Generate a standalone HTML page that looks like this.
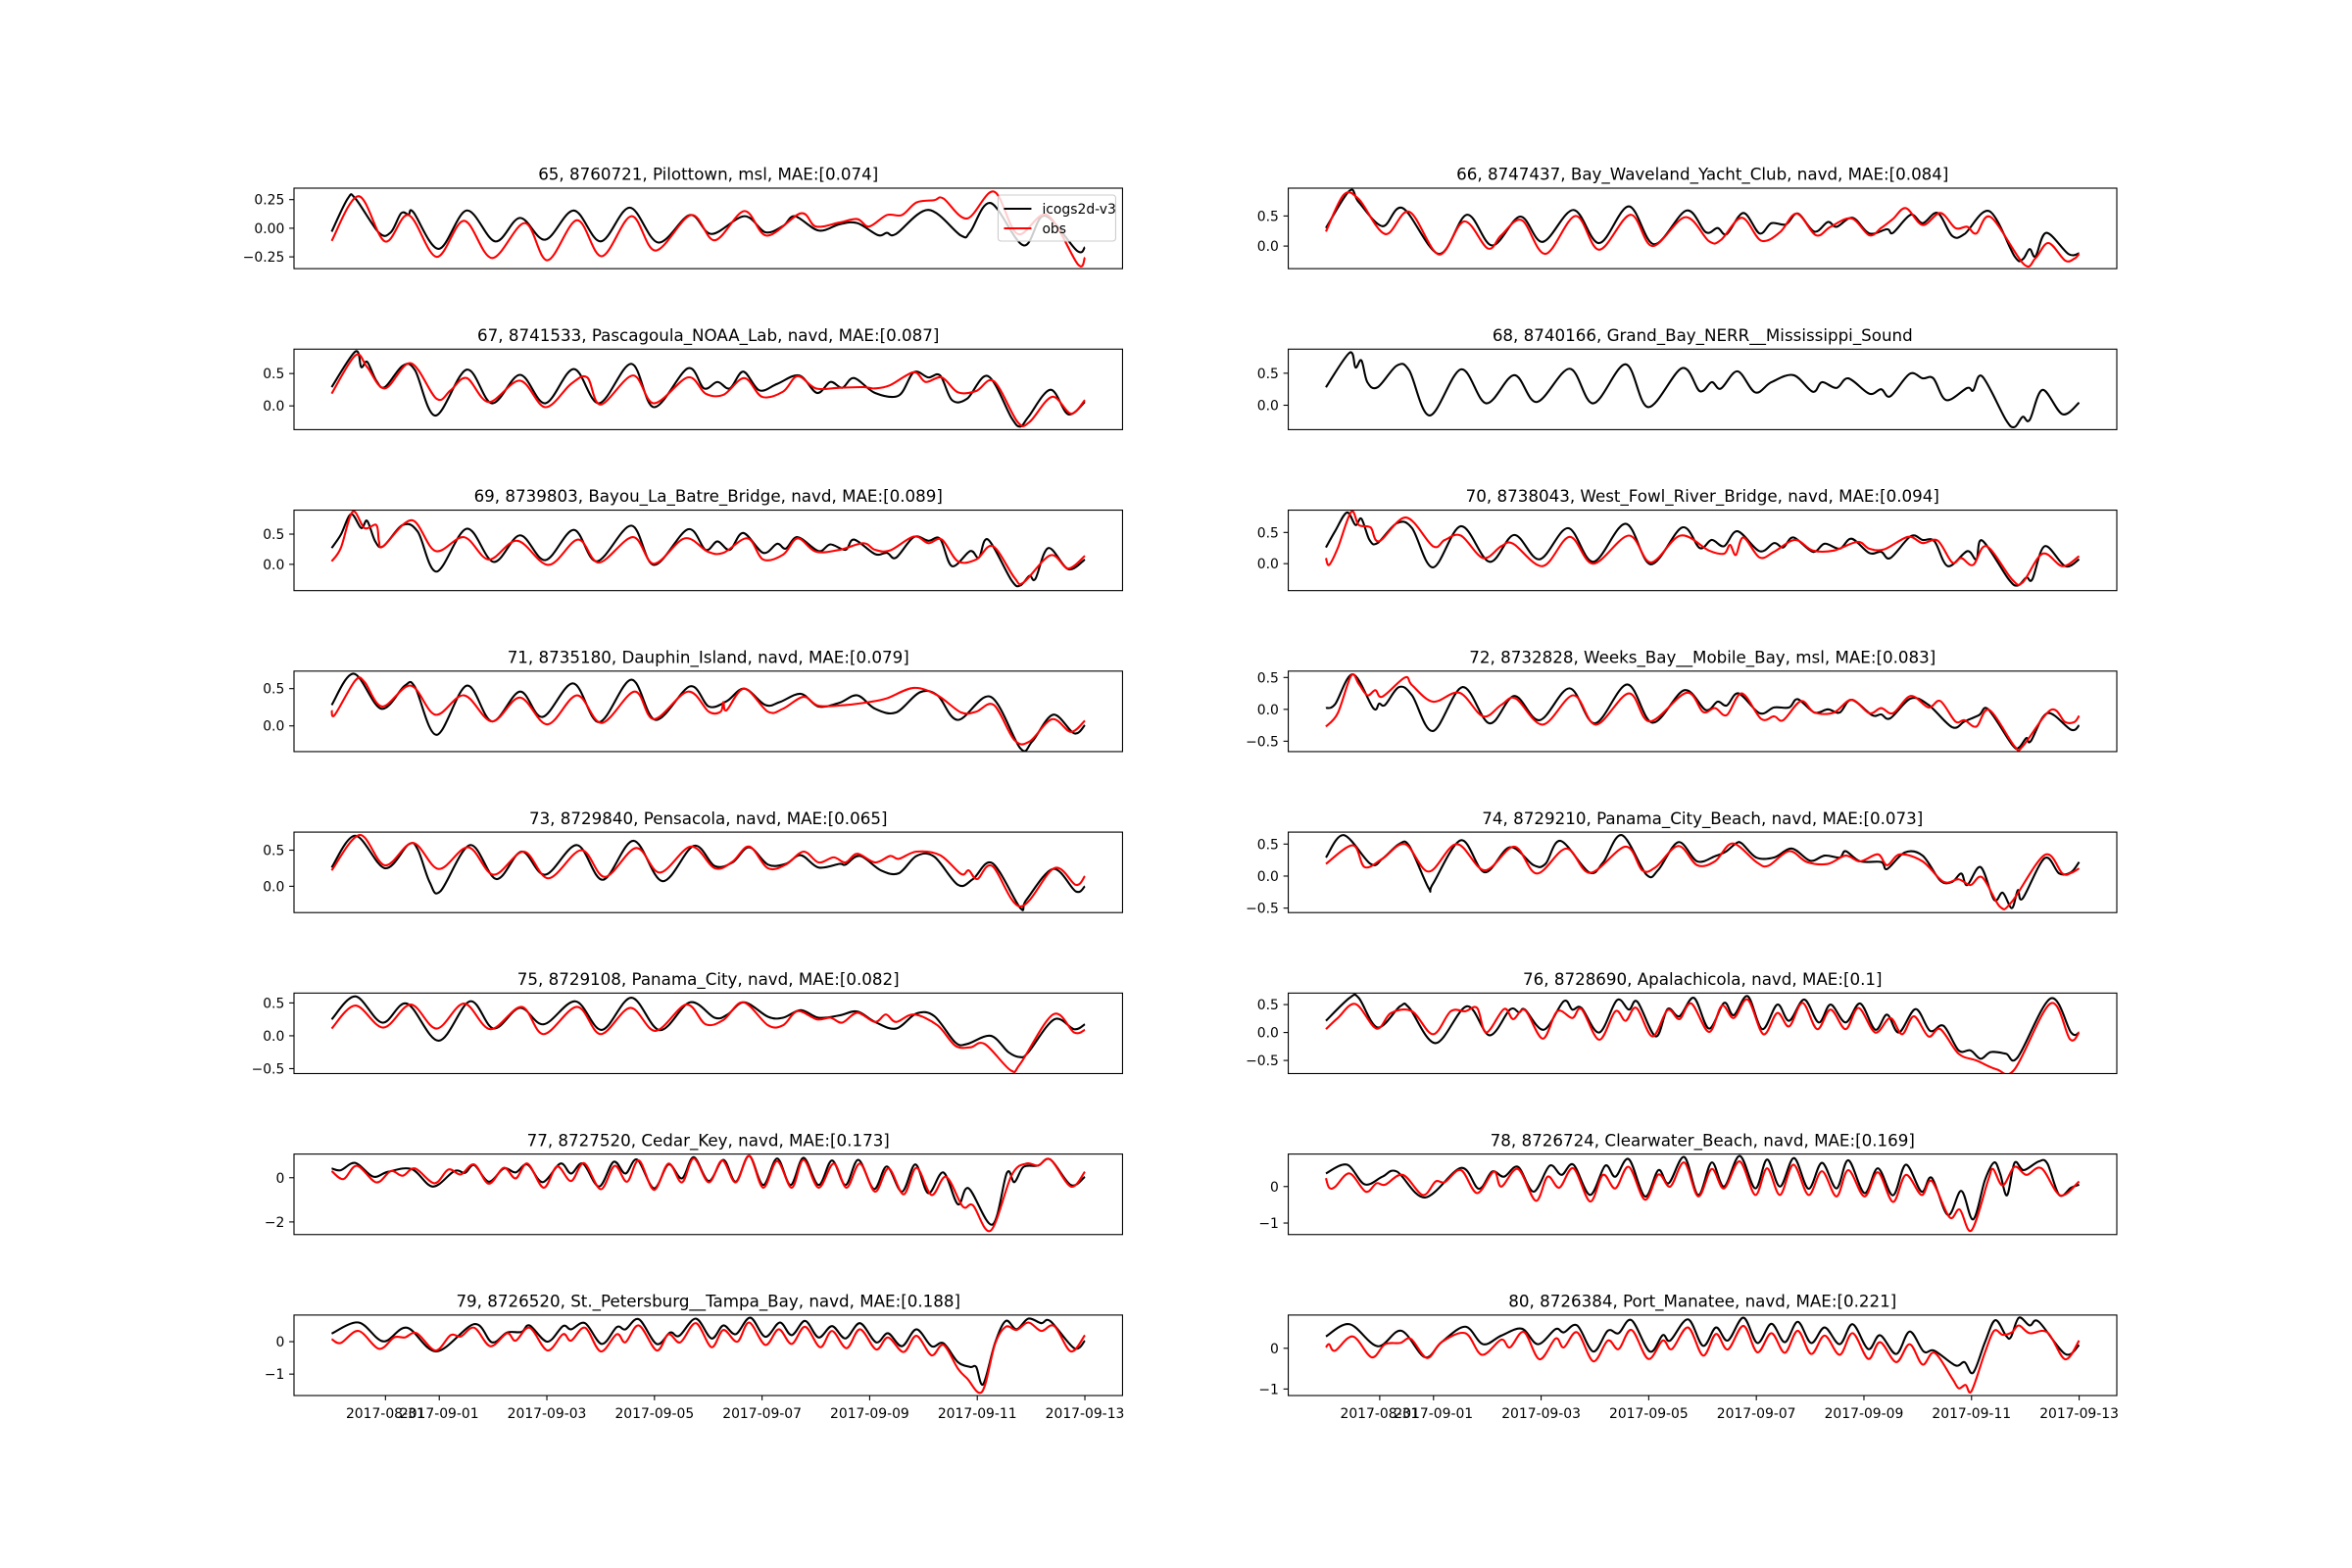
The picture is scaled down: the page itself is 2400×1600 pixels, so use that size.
<!DOCTYPE html>
<html><head><meta charset="utf-8"><title>Water level comparison</title>
<style>html,body{margin:0;padding:0;background:#fff;}svg{display:block;}text{font-family:"DejaVu Sans","Liberation Sans",sans-serif;fill:#000;}</style>
</head><body>
<svg id="chart" xmlns="http://www.w3.org/2000/svg" width="2400" height="1600" viewBox="0 0 2400 1600">
<rect x="0" y="0" width="2400" height="1600" fill="#fff"/>
</svg>
<script>
// ---- data: [day since 2017-08-30, water level] ----
const p65_model=[[0,-0.03],[0.30,0.26],[0.44,0.26],[0.88,-0.04],[1.10,-0.035],[1.29,0.13],[1.43,0.12],[1.52,0.14],[1.99,-0.18],[2.51,0.155],[3.04,-0.115],[3.50,0.09],[3.97,-0.10],[4.50,0.155],[5.00,-0.115],[5.54,0.18],[6.07,-0.125],[6.66,0.115],[7.06,-0.05],[7.67,0.105],[8.06,-0.035],[8.39,0.02],[8.61,0.105],[9.05,-0.02],[9.44,0.035],[9.77,0.045],[10.15,-0.06],[10.32,-0.04],[10.49,-0.05],[11.09,0.16],[11.70,-0.065],[11.87,-0.03],[12.25,0.22],[12.86,-0.15],[13.25,0.11],[13.85,-0.195],[14,-0.165]];
const p65_obs=[[0,-0.11],[0.50,0.28],[0.99,-0.115],[1.43,0.115],[1.95,-0.25],[2.46,0.065],[2.98,-0.26],[3.59,0.045],[4.01,-0.28],[4.56,0.07],[5.02,-0.245],[5.57,0.105],[6.02,-0.195],[6.68,0.115],[7.12,-0.105],[7.67,0.15],[8.09,-0.065],[8.72,0.13],[9.00,0.015],[9.44,0.05],[9.77,0.08],[9.99,0.015],[10.32,0.115],[10.60,0.115],[10.87,0.225],[11.20,0.245],[11.37,0.26],[11.81,0.085],[12.31,0.32],[12.75,-0.05],[13.30,0.115],[13.87,-0.315],[14,-0.255]];
const p66_model=[[0,0.3],[0.44,0.92],[0.61,0.73],[1.05,0.33],[1.43,0.63],[2.10,-0.13],[2.62,0.52],[3.09,0.01],[3.61,0.49],[4.03,0.07],[4.60,0.6],[5.08,0.05],[5.63,0.66],[6.10,0.03],[6.70,0.59],[7.06,0.23],[7.28,0.3],[7.45,0.2],[7.76,0.55],[8.06,0.21],[8.28,0.38],[8.55,0.36],[8.77,0.54],[9.08,0.24],[9.33,0.4],[9.49,0.32],[9.79,0.47],[10.10,0.21],[10.43,0.28],[10.54,0.22],[10.87,0.52],[11.09,0.38],[11.37,0.55],[11.64,0.17],[11.87,0.2],[12.33,0.58],[12.80,-0.17],[12.95,-0.22],[13.08,-0.05],[13.19,-0.17],[13.39,0.22],[13.80,-0.13],[14,-0.12]];
const p66_obs=[[0,0.24],[0.33,0.85],[0.61,0.78],[1.10,0.2],[1.55,0.57],[2.10,-0.14],[2.57,0.41],[3.01,-0.04],[3.26,0.18],[3.64,0.43],[4.08,-0.13],[4.64,0.5],[5.08,-0.06],[5.66,0.52],[6.07,0],[6.68,0.48],[7.12,0.08],[7.34,0.1],[7.73,0.47],[8.09,0.09],[8.44,0.23],[8.75,0.54],[9.11,0.18],[9.38,0.32],[9.77,0.46],[10.10,0.18],[10.32,0.3],[10.54,0.45],[10.78,0.63],[11.09,0.35],[11.42,0.55],[11.70,0.3],[11.92,0.32],[12.09,0.21],[12.36,0.48],[12.97,-0.3],[13.19,-0.2],[13.43,0.05],[13.74,-0.24],[13.91,-0.21],[14,-0.13]];
const p67_model=[[0,0.29],[0.44,0.84],[0.55,0.6],[0.66,0.68],[0.83,0.39],[0.99,0.29],[1.32,0.62],[1.55,0.55],[1.93,-0.15],[2.51,0.56],[2.98,0.04],[3.50,0.48],[3.97,0.04],[4.50,0.57],[4.97,0.04],[5.57,0.65],[5.99,-0.02],[6.62,0.58],[6.92,0.27],[7.17,0.37],[7.40,0.27],[7.65,0.53],[7.95,0.24],[8.28,0.34],[8.69,0.47],[9.02,0.2],[9.27,0.37],[9.49,0.28],[9.71,0.43],[10.10,0.2],[10.54,0.16],[10.82,0.52],[11.09,0.44],[11.31,0.47],[11.53,0.09],[11.81,0.11],[12.20,0.46],[12.64,-0.19],[12.80,-0.32],[12.95,-0.17],[13.36,0.25],[13.69,-0.13],[14,0.06]];
const p67_obs=[[0,0.19],[0.44,0.78],[0.66,0.6],[0.99,0.27],[1.47,0.66],[1.95,0.11],[2.21,0.24],[2.51,0.43],[2.92,0.06],[3.50,0.39],[3.97,-0.02],[4.45,0.34],[4.75,0.44],[5.00,0.02],[5.60,0.47],[5.99,0.04],[6.62,0.44],[6.95,0.19],[7.28,0.17],[7.67,0.43],[8.00,0.14],[8.39,0.22],[8.66,0.46],[9.00,0.27],[9.44,0.28],[9.88,0.29],[10.10,0.27],[10.38,0.32],[10.82,0.52],[11.04,0.37],[11.34,0.44],[11.64,0.21],[11.98,0.23],[12.31,0.38],[12.75,-0.25],[12.97,-0.25],[13.39,0.14],[13.74,-0.12],[14,0.09]];
const p68_model=[[0,0.28],[0.44,0.82],[0.55,0.59],[0.66,0.7],[0.77,0.36],[0.96,0.28],[1.32,0.62],[1.55,0.54],[1.93,-0.16],[2.51,0.56],[2.98,0.03],[3.50,0.47],[3.92,0.05],[4.53,0.57],[4.97,0.03],[5.57,0.64],[5.99,-0.03],[6.62,0.58],[6.95,0.22],[7.17,0.36],[7.34,0.26],[7.65,0.53],[7.98,0.2],[8.28,0.36],[8.69,0.47],[9.05,0.21],[9.22,0.36],[9.49,0.27],[9.71,0.42],[10.10,0.18],[10.32,0.25],[10.49,0.14],[10.85,0.49],[11.09,0.42],[11.29,0.42],[11.53,0.08],[11.92,0.27],[12.03,0.23],[12.20,0.45],[12.64,-0.23],[12.80,-0.34],[12.95,-0.18],[13.08,-0.23],[13.32,0.24],[13.69,-0.14],[14,0.04]];
const p68_obs=[];
const p69_model=[[0,0.27],[0.17,0.49],[0.36,0.83],[0.55,0.6],[0.66,0.72],[0.81,0.38],[0.96,0.3],[1.32,0.65],[1.60,0.54],[1.95,-0.12],[2.51,0.59],[3.01,0.04],[3.50,0.48],[3.97,0.07],[4.50,0.57],[4.93,0.05],[5.57,0.64],[5.99,-0.01],[6.62,0.58],[6.95,0.24],[7.17,0.38],[7.40,0.24],[7.65,0.52],[8.02,0.19],[8.28,0.34],[8.44,0.26],[8.66,0.45],[9.05,0.22],[9.27,0.33],[9.55,0.24],[9.71,0.41],[10.10,0.17],[10.32,0.19],[10.49,0.11],[10.82,0.45],[11.09,0.39],[11.31,0.42],[11.53,-0.03],[11.87,0.22],[12.03,0.11],[12.20,0.41],[12.64,-0.27],[12.80,-0.35],[12.97,-0.19],[13.08,-0.24],[13.32,0.27],[13.69,-0.08],[14,0.08]];
const p69_obs=[[0,0.05],[0.17,0.27],[0.39,0.87],[0.61,0.6],[0.83,0.65],[0.88,0.38],[0.96,0.3],[1.49,0.73],[1.93,0.22],[2.46,0.45],[2.92,0.08],[3.45,0.39],[4.03,-0.01],[4.58,0.41],[4.97,0.03],[5.60,0.45],[5.99,0.01],[6.56,0.43],[6.99,0.21],[7.28,0.19],[7.73,0.43],[8.02,0.08],[8.39,0.16],[8.66,0.43],[9.00,0.21],[9.44,0.24],[9.88,0.35],[10.10,0.24],[10.38,0.23],[10.82,0.46],[11.09,0.35],[11.34,0.41],[11.64,0.05],[11.98,0.08],[12.29,0.3],[12.69,-0.22],[12.86,-0.3],[13.36,0.15],[13.69,-0.07],[14,0.14]];
const p70_model=[[0,0.26],[0.17,0.52],[0.39,0.82],[0.55,0.62],[0.66,0.72],[0.81,0.38],[0.96,0.33],[1.32,0.65],[1.60,0.57],[1.99,-0.06],[2.51,0.6],[3.04,0.03],[3.50,0.46],[3.97,0.07],[4.50,0.57],[4.97,0.03],[5.57,0.64],[6.04,-0.01],[6.62,0.58],[6.95,0.25],[7.17,0.38],[7.40,0.28],[7.65,0.52],[8.06,0.2],[8.33,0.33],[8.50,0.26],[8.69,0.42],[9.05,0.19],[9.27,0.32],[9.55,0.24],[9.77,0.4],[10.10,0.17],[10.32,0.19],[10.49,0.09],[10.87,0.44],[11.09,0.38],[11.31,0.36],[11.56,-0.04],[11.92,0.2],[12.09,0.07],[12.20,0.37],[12.69,-0.25],[12.86,-0.35],[13.02,-0.22],[13.13,-0.25],[13.36,0.28],[13.74,-0.04],[14,0.07]];
const p70_obs=[[0,0.09],[0.06,-0.02],[0.22,0.25],[0.47,0.83],[0.61,0.62],[0.83,0.58],[0.99,0.36],[1.49,0.74],[1.99,0.28],[2.21,0.38],[2.51,0.45],[2.92,0.09],[3.26,0.28],[3.48,0.32],[4.03,-0.04],[4.53,0.43],[4.97,0],[5.63,0.45],[6.04,0.02],[6.59,0.45],[7.12,0.21],[7.40,0.16],[7.51,0.3],[7.62,0.14],[7.76,0.42],[8.06,0.1],[8.33,0.19],[8.72,0.38],[9.05,0.21],[9.44,0.21],[9.88,0.35],[10.10,0.24],[10.38,0.23],[10.82,0.43],[11.09,0.33],[11.37,0.37],[11.64,0.02],[11.81,0.09],[12.03,-0.02],[12.28,0.28],[12.75,-0.25],[12.95,-0.3],[13.32,0.16],[13.69,-0.04],[14,0.12]];
const p71_model=[[0,0.28],[0.41,0.70],[0.92,0.23],[1.36,0.54],[1.55,0.52],[1.95,-0.12],[2.51,0.54],[2.98,0.06],[3.50,0.46],[3.92,0.12],[4.49,0.57],[4.97,0.05],[5.57,0.62],[6.02,0.08],[6.66,0.53],[7.01,0.26],[7.34,0.33],[7.67,0.5],[8.06,0.28],[8.33,0.32],[8.72,0.43],[9.05,0.26],[9.44,0.31],[9.77,0.41],[10.10,0.23],[10.49,0.18],[10.93,0.45],[11.26,0.41],[11.64,0.08],[12.25,0.39],[12.80,-0.3],[13.02,-0.21],[13.41,0.15],[13.80,-0.1],[14,0.01]];
const p71_obs=[[0,0.21],[0.06,0.15],[0.44,0.61],[0.61,0.59],[0.94,0.26],[1.47,0.54],[1.93,0.15],[2.46,0.41],[2.98,0.06],[3.50,0.38],[4.01,0.02],[4.56,0.41],[5.02,0.04],[5.63,0.46],[5.99,0.09],[6.62,0.46],[7.01,0.19],[7.23,0.19],[7.28,0.32],[7.34,0.21],[7.67,0.5],[8.11,0.19],[8.39,0.23],[8.77,0.39],[9.05,0.27],[9.55,0.28],[9.99,0.32],[10.32,0.37],[10.82,0.51],[11.26,0.41],[11.70,0.18],[11.98,0.19],[12.31,0.28],[12.69,-0.19],[12.97,-0.21],[13.39,0.09],[13.74,-0.08],[14,0.07]];
const p72_model=[[0,0.02],[0.17,0.08],[0.50,0.55],[0.88,0.02],[0.99,0.09],[1.10,0.07],[1.36,0.35],[1.60,0.22],[1.99,-0.34],[2.54,0.35],[3.04,-0.22],[3.50,0.21],[3.97,-0.17],[4.53,0.33],[5.00,-0.22],[5.60,0.39],[6.07,-0.21],[6.66,0.3],[7.06,-0.01],[7.28,0.12],[7.45,0.06],[7.67,0.25],[8.06,-0.06],[8.33,0.03],[8.61,0.03],[8.77,0.16],[9.08,-0.05],[9.33,0.0],[9.55,-0.05],[9.77,0.15],[10.15,-0.09],[10.32,-0.08],[10.49,-0.14],[10.87,0.17],[11.20,0.07],[11.64,-0.28],[11.87,-0.19],[12.14,-0.09],[12.31,0],[12.75,-0.55],[12.88,-0.6],[13.02,-0.45],[13.10,-0.5],[13.41,-0.06],[13.85,-0.32],[14,-0.25]];
const p72_obs=[[0,-0.27],[0.22,-0.06],[0.47,0.53],[0.61,0.4],[0.77,0.22],[0.92,0.3],[1.05,0.2],[1.47,0.5],[1.60,0.38],[1.99,0.12],[2.48,0.26],[2.92,-0.11],[3.26,0.07],[3.53,0.17],[4.03,-0.24],[4.60,0.22],[5.02,-0.24],[5.63,0.25],[6.02,-0.19],[6.70,0.26],[7.01,-0.04],[7.23,0.02],[7.45,-0.09],[7.73,0.25],[8.09,-0.15],[8.33,-0.11],[8.50,-0.17],[8.83,0.13],[9.08,-0.05],[9.44,-0.05],[9.77,0.15],[10.10,-0.06],[10.32,0.02],[10.54,-0.06],[10.87,0.21],[11.20,0.03],[11.42,0.13],[11.70,-0.19],[11.87,-0.17],[12.09,-0.27],[12.33,-0.01],[12.80,-0.58],[12.95,-0.58],[13.47,-0.01],[13.74,-0.2],[13.91,-0.2],[14,-0.1]];
const p73_model=[[0,0.26],[0.44,0.70],[0.99,0.25],[1.43,0.58],[1.60,0.51],[1.82,0.06],[2.02,-0.07],[2.57,0.57],[3.06,0.1],[3.53,0.48],[3.97,0.16],[4.56,0.57],[5.04,0.09],[5.61,0.63],[6.15,0.07],[6.73,0.56],[7.12,0.28],[7.45,0.33],[7.76,0.54],[8.11,0.3],[8.44,0.31],[8.72,0.43],[9.05,0.26],[9.44,0.31],[9.55,0.3],[9.82,0.42],[10.21,0.22],[10.54,0.18],[10.87,0.42],[11.20,0.41],[11.64,0.02],[11.92,0.1],[12.28,0.32],[12.80,-0.3],[12.91,-0.19],[13.41,0.24],[13.83,-0.07],[14,0]];
const p73_obs=[[0,0.22],[0.52,0.71],[0.99,0.29],[1.51,0.6],[1.99,0.24],[2.54,0.54],[3.01,0.16],[3.57,0.48],[4.03,0.11],[4.64,0.5],[5.08,0.13],[5.66,0.53],[6.10,0.19],[6.68,0.55],[7.12,0.25],[7.45,0.34],[7.76,0.55],[8.11,0.25],[8.44,0.3],[8.77,0.48],[9.05,0.33],[9.33,0.4],[9.55,0.33],[9.77,0.45],[10.10,0.33],[10.38,0.42],[10.54,0.38],[10.87,0.48],[11.31,0.43],[11.70,0.17],[11.84,0.22],[12.00,0.1],[12.28,0.28],[12.80,-0.28],[13.43,0.25],[13.83,0.02],[14,0.14]];
const p74_model=[[0,0.29],[0.33,0.64],[0.83,0.19],[1.05,0.27],[1.36,0.5],[1.55,0.47],[1.91,-0.19],[1.99,-0.12],[2.51,0.56],[2.95,0.06],[3.42,0.45],[3.86,0.17],[4.08,0.19],[4.36,0.55],[4.89,0.06],[5.15,0.21],[5.50,0.64],[5.96,0.02],[6.18,0.1],[6.55,0.53],[6.90,0.23],[7.23,0.31],[7.43,0.38],[7.62,0.51],[7.73,0.51],[8.00,0.29],[8.33,0.29],[8.66,0.43],[9.00,0.24],[9.27,0.32],[9.55,0.29],[9.66,0.39],[9.93,0.23],[10.32,0.22],[10.43,0.11],[10.76,0.37],[11.09,0.32],[11.42,-0.07],[11.64,-0.09],[11.81,0.04],[11.92,-0.14],[12.17,0.14],[12.42,-0.37],[12.58,-0.26],[12.75,-0.5],[12.86,-0.22],[12.95,-0.35],[13.36,0.28],[13.63,0.04],[13.85,0.06],[14,0.22]];
const p74_obs=[[0,0.19],[0.50,0.48],[0.72,0.14],[1.05,0.27],[1.47,0.5],[1.91,0.07],[2.43,0.5],[2.95,0.09],[3.50,0.46],[3.92,0.04],[4.47,0.43],[4.91,0.05],[5.57,0.46],[5.88,0.09],[6.13,0.14],[6.55,0.47],[6.90,0.17],[7.23,0.23],[7.56,0.51],[8.00,0.22],[8.22,0.16],[8.61,0.39],[8.94,0.22],[9.33,0.19],[9.66,0.32],[9.93,0.23],[10.26,0.34],[10.43,0.17],[10.67,0.34],[11.09,0.23],[11.48,-0.09],[11.76,-0.05],[11.98,-0.14],[12.20,-0.02],[12.53,-0.48],[12.75,-0.4],[13.36,0.33],[13.69,0.04],[13.85,0.05],[14,0.12]];
const p75_model=[[0,0.25],[0.44,0.6],[0.94,0.2],[1.40,0.49],[1.99,-0.075],[2.57,0.525],[3.01,0.11],[3.50,0.425],[3.94,0.175],[4.53,0.525],[5.02,0.09],[5.57,0.58],[6.10,0.085],[6.66,0.51],[7.12,0.275],[7.36,0.325],[7.67,0.51],[8.11,0.29],[8.39,0.275],[8.72,0.39],[9.05,0.275],[9.44,0.31],[9.77,0.37],[10.10,0.21],[10.49,0.11],[10.87,0.34],[11.20,0.3],[11.59,-0.1],[11.81,-0.125],[12.25,0],[12.58,-0.25],[12.80,-0.325],[12.95,-0.25],[13.43,0.25],[13.80,0.1],[14,0.175]];
const p75_obs=[[0,0.11],[0.44,0.46],[0.96,0.125],[1.47,0.475],[1.95,0.11],[2.46,0.49],[2.95,0.1],[3.53,0.44],[3.94,0.025],[4.56,0.44],[5.00,0.025],[5.55,0.425],[6.02,0.075],[6.59,0.475],[6.95,0.175],[7.28,0.24],[7.65,0.51],[8.11,0.16],[8.39,0.16],[8.66,0.375],[9.02,0.25],[9.27,0.275],[9.49,0.2],[9.77,0.35],[10.10,0.21],[10.30,0.325],[10.49,0.21],[10.82,0.325],[11.26,0.16],[11.59,-0.15],[11.87,-0.175],[12.14,-0.125],[12.62,-0.525],[12.80,-0.425],[13.41,0.325],[13.80,0.05],[14,0.09]];
const p76_model=[[0,0.21],[0.44,0.62],[0.61,0.62],[0.96,0.09],[1.38,0.47],[1.55,0.44],[2.04,-0.19],[2.62,0.47],[3.04,-0.05],[3.42,0.41],[3.59,0.36],[3.70,0.41],[4.05,0.05],[4.42,0.56],[4.58,0.41],[4.75,0.44],[5.08,0],[5.41,0.58],[5.63,0.41],[5.79,0.55],[6.13,-0.07],[6.35,0.42],[6.57,0.29],[6.84,0.62],[7.12,0.07],[7.40,0.53],[7.58,0.31],[7.84,0.65],[8.11,0.06],[8.39,0.5],[8.61,0.21],[8.89,0.59],[9.16,0.18],[9.38,0.5],[9.66,0.18],[9.93,0.52],[10.21,0.05],[10.43,0.32],[10.65,0],[10.96,0.42],[11.23,0.03],[11.48,0.12],[11.76,-0.32],[11.98,-0.32],[12.17,-0.47],[12.36,-0.35],[12.64,-0.38],[12.86,-0.44],[13.47,0.61],[13.85,0],[14,0]];
const p76_obs=[[0,0.06],[0.22,0.26],[0.55,0.51],[0.94,0.07],[1.21,0.35],[1.60,0.38],[1.99,-0.03],[2.32,0.38],[2.59,0.38],[2.81,0.44],[2.98,0],[3.31,0.42],[3.48,0.24],[3.70,0.4],[4.03,-0.11],[4.30,0.38],[4.58,0.26],[4.75,0.42],[5.08,-0.13],[5.38,0.38],[5.57,0.21],[5.77,0.44],[6.07,-0.07],[6.35,0.4],[6.57,0.24],[6.79,0.52],[7.12,0.01],[7.36,0.48],[7.58,0.26],[7.84,0.59],[8.13,-0.03],[8.39,0.35],[8.61,0.11],[8.86,0.53],[9.13,0.06],[9.38,0.41],[9.66,0.06],[9.90,0.44],[10.21,0],[10.49,0.26],[10.71,-0.03],[10.93,0.29],[11.20,-0.07],[11.42,0.06],[11.76,-0.38],[12.09,-0.5],[12.47,-0.66],[12.80,-0.66],[13.47,0.52],[13.83,-0.12],[14,0]];
const p77_model=[[0,0.42],[0.17,0.34],[0.44,0.67],[0.77,0.05],[1.05,0.27],[1.49,0.39],[1.88,-0.4],[2.28,0.3],[2.48,0.22],[2.65,0.57],[2.92,-0.18],[3.20,0.42],[3.42,0.24],[3.64,0.6],[3.92,-0.2],[4.25,0.64],[4.45,0.19],[4.67,0.64],[4.97,-0.4],[5.24,0.72],[5.46,0.19],[5.68,0.82],[5.99,-0.48],[6.26,0.6],[6.51,-0.03],[6.73,0.93],[7.01,-0.15],[7.28,0.81],[7.51,-0.18],[7.76,0.99],[8.02,-0.33],[8.28,0.87],[8.53,-0.33],[8.77,0.9],[9.05,-0.33],[9.30,0.78],[9.55,-0.33],[9.79,0.81],[10.08,-0.51],[10.32,0.51],[10.60,-0.63],[10.85,0.6],[11.09,-0.7],[11.37,0.24],[11.64,-1.2],[11.84,-0.48],[12.28,-2.12],[12.55,0.22],[12.69,-0.2],[12.86,0.49],[13.13,0.55],[13.36,0.82],[13.74,-0.33],[14,0.04]];
const p77_obs=[[0,0.3],[0.22,-0.06],[0.47,0.54],[0.83,-0.21],[1.10,0.3],[1.32,0.09],[1.55,0.42],[1.91,-0.25],[2.17,0.37],[2.40,0.15],[2.65,0.6],[2.92,-0.27],[3.20,0.45],[3.42,-0.03],[3.64,0.64],[3.94,-0.45],[4.19,0.51],[4.45,-0.15],[4.69,0.66],[5.00,-0.52],[5.26,0.54],[5.49,-0.18],[5.71,0.78],[5.99,-0.55],[6.26,0.64],[6.51,-0.21],[6.73,0.87],[7.01,-0.21],[7.26,0.78],[7.51,-0.21],[7.76,0.99],[8.02,-0.45],[8.28,0.75],[8.55,-0.45],[8.77,0.81],[9.05,-0.45],[9.33,0.64],[9.57,-0.45],[9.82,0.64],[10.10,-0.63],[10.35,0.42],[10.63,-0.75],[10.87,0.45],[11.15,-0.78],[11.42,0.04],[11.73,-1.3],[11.92,-1.25],[12.25,-2.39],[12.64,0.12],[12.91,0.64],[13.13,0.55],[13.36,0.82],[13.74,-0.4],[14,0.27]];
const p78_model=[[0,0.36],[0.39,0.6],[0.72,0.06],[1.05,0.27],[1.32,0.41],[1.84,-0.3],[2.51,0.51],[2.84,-0.06],[3.09,0.41],[3.31,0.27],[3.57,0.54],[3.86,-0.14],[4.16,0.57],[4.38,0.32],[4.60,0.6],[4.91,-0.23],[5.19,0.57],[5.38,0.27],[5.63,0.75],[5.93,-0.27],[6.18,0.45],[6.37,0.09],[6.66,0.81],[6.92,-0.23],[7.17,0.66],[7.40,0],[7.69,0.84],[7.98,-0.05],[8.20,0.74],[8.44,0],[8.70,0.78],[8.97,-0.06],[9.22,0.65],[9.49,-0.05],[9.71,0.72],[10.01,-0.18],[10.26,0.5],[10.54,-0.24],[10.78,0.6],[11.07,-0.14],[11.26,0.24],[11.56,-0.78],[11.81,-0.12],[12.03,-0.9],[12.25,0.18],[12.42,0.66],[12.53,0.36],[12.66,-0.24],[12.80,0.65],[12.97,0.45],[13.25,0.69],[13.41,0.63],[13.63,-0.23],[13.85,-0.03],[14,0.05]];
const p78_obs=[[0,0.23],[0.06,-0.03],[0.17,-0.01],[0.44,0.36],[0.74,-0.14],[0.94,0.09],[1.10,0.05],[1.43,0.32],[1.80,-0.23],[2.04,0.14],[2.21,0.12],[2.51,0.45],[2.81,-0.18],[3.12,0.41],[3.26,0],[3.57,0.48],[3.90,-0.39],[4.12,0.27],[4.34,-0.03],[4.60,0.5],[4.91,-0.41],[5.15,0.32],[5.38,-0.05],[5.63,0.54],[5.93,-0.36],[6.18,0.33],[6.40,0],[6.66,0.66],[6.92,-0.27],[7.17,0.48],[7.40,-0.05],[7.69,0.69],[7.98,-0.23],[8.20,0.5],[8.44,-0.23],[8.69,0.6],[8.97,-0.23],[9.22,0.42],[9.49,-0.27],[9.71,0.45],[10.01,-0.27],[10.26,0.39],[10.54,-0.42],[10.78,0.32],[11.07,-0.23],[11.26,0.15],[11.59,-0.84],[11.78,-0.63],[12.00,-1.2],[12.31,0.18],[12.40,0.48],[12.58,0.03],[12.80,0.54],[13.02,0.32],[13.30,0.5],[13.65,-0.24],[14,0.14]];
const p79_model=[[0,0.25],[0.50,0.59],[0.96,0.01],[1.40,0.43],[1.95,-0.3],[2.65,0.54],[2.98,-0.02],[3.26,0.28],[3.53,0.3],[3.68,0.5],[4.01,0],[4.30,0.48],[4.45,0.38],[4.71,0.57],[5.02,-0.07],[5.30,0.45],[5.46,0.38],[5.71,0.69],[6.04,-0.07],[6.29,0.28],[6.46,0.18],[6.77,0.71],[7.06,0.1],[7.28,0.5],[7.51,0.23],[7.78,0.74],[8.06,0.15],[8.33,0.59],[8.55,0.2],[8.80,0.64],[9.05,0.13],[9.30,0.48],[9.55,0.1],[9.82,0.57],[10.12,-0.02],[10.34,0.26],[10.60,-0.14],[10.87,0.38],[11.15,-0.14],[11.37,-0.05],[11.64,-0.63],[11.87,-0.78],[11.98,-0.78],[12.11,-1.31],[12.33,-0.04],[12.53,0.64],[12.73,0.38],[12.95,0.71],[13.19,0.57],[13.36,0.63],[13.80,-0.2],[14,0.03]];
const p79_obs=[[0,0.08],[0.17,-0.04],[0.50,0.33],[0.88,-0.22],[1.16,0.13],[1.36,0.13],[1.58,0.26],[1.93,-0.27],[2.21,0.2],[2.40,0.16],[2.65,0.43],[2.95,-0.14],[3.26,0.26],[3.42,0.03],[3.68,0.43],[4.01,-0.27],[4.30,0.23],[4.45,0.03],[4.71,0.43],[5.00,-0.3],[5.30,0.23],[5.46,-0.02],[5.71,0.5],[6.04,-0.27],[6.26,0.23],[6.48,-0.02],[6.77,0.57],[7.06,-0.17],[7.28,0.36],[7.54,0],[7.76,0.59],[8.06,-0.1],[8.31,0.38],[8.55,-0.07],[8.80,0.46],[9.08,-0.17],[9.30,0.33],[9.57,-0.2],[9.82,0.38],[10.12,-0.24],[10.34,0.13],[10.63,-0.32],[10.87,0.18],[11.15,-0.42],[11.37,-0.1],[11.64,-0.83],[11.81,-1.13],[12.09,-1.54],[12.33,-0.07],[12.53,0.46],[12.73,0.36],[12.95,0.59],[13.19,0.33],[13.43,0.48],[13.74,-0.3],[14,0.2]];
const p80_model=[[0,0.29],[0.44,0.59],[0.96,0.05],[1.40,0.43],[1.84,-0.22],[2.15,0.15],[2.59,0.53],[2.92,0.1],[3.26,0.31],[3.64,0.48],[3.94,0.1],[4.27,0.47],[4.42,0.39],[4.67,0.56],[4.97,-0.08],[5.24,0.43],[5.44,0.37],[5.68,0.69],[6.02,-0.08],[6.26,0.32],[6.40,0.19],[6.73,0.71],[7.01,0.06],[7.25,0.51],[7.47,0.19],[7.76,0.75],[8.02,0.13],[8.28,0.6],[8.53,0.15],[8.77,0.65],[9.02,0.13],[9.27,0.51],[9.55,0.1],[9.79,0.59],[10.08,-0.02],[10.30,0.32],[10.60,-0.14],[10.85,0.41],[11.11,-0.08],[11.31,-0.06],[11.70,-0.42],[11.87,-0.34],[12.03,-0.6],[12.25,0.15],[12.44,0.69],[12.64,0.31],[12.73,0.27],[12.88,0.75],[13.08,0.56],[13.25,0.65],[13.74,-0.14],[14,0.08]];
const p80_obs=[[0,0.02],[0.06,0.1],[0.17,-0.06],[0.50,0.29],[0.85,-0.22],[1.10,0.1],[1.38,0.13],[1.58,0.23],[1.88,-0.24],[2.15,0.15],[2.59,0.37],[2.90,-0.16],[3.26,0.21],[3.42,0.02],[3.68,0.4],[3.97,-0.27],[4.27,0.24],[4.42,0.02],[4.67,0.39],[4.97,-0.32],[5.24,0.19],[5.44,-0.02],[5.68,0.45],[5.99,-0.26],[6.26,0.19],[6.43,-0.02],[6.73,0.51],[7.01,-0.18],[7.25,0.35],[7.47,-0.03],[7.76,0.55],[8.02,-0.1],[8.28,0.37],[8.53,-0.11],[8.77,0.43],[9.02,-0.14],[9.27,0.31],[9.55,-0.16],[9.79,0.37],[10.08,-0.26],[10.30,0.15],[10.60,-0.34],[10.85,0.1],[11.09,-0.4],[11.31,-0.11],[11.64,-0.74],[11.76,-0.98],[11.89,-0.9],[12.00,-1.05],[12.25,-0.1],[12.42,0.43],[12.58,0.33],[12.75,0.39],[12.88,0.56],[13.08,0.37],[13.41,0.39],[13.74,-0.27],[14,0.19]];

// ---- panel labels & axis config ----
const panelTitles=["65, 8760721, Pilottown, msl, MAE:[0.074]","66, 8747437, Bay_Waveland_Yacht_Club, navd, MAE:[0.084]","67, 8741533, Pascagoula_NOAA_Lab, navd, MAE:[0.087]","68, 8740166, Grand_Bay_NERR__Mississippi_Sound","69, 8739803, Bayou_La_Batre_Bridge, navd, MAE:[0.089]","70, 8738043, West_Fowl_River_Bridge, navd, MAE:[0.094]","71, 8735180, Dauphin_Island, navd, MAE:[0.079]","72, 8732828, Weeks_Bay__Mobile_Bay, msl, MAE:[0.083]","73, 8729840, Pensacola, navd, MAE:[0.065]","74, 8729210, Panama_City_Beach, navd, MAE:[0.073]","75, 8729108, Panama_City, navd, MAE:[0.082]","76, 8728690, Apalachicola, navd, MAE:[0.1]","77, 8727520, Cedar_Key, navd, MAE:[0.173]","78, 8726724, Clearwater_Beach, navd, MAE:[0.169]","79, 8726520, St._Petersburg__Tampa_Bay, navd, MAE:[0.188]","80, 8726384, Port_Manatee, navd, MAE:[0.221]"];
const modelSeries=[p65_model,p66_model,p67_model,p68_model,p69_model,p70_model,p71_model,p72_model,p73_model,p74_model,p75_model,p76_model,p77_model,p78_model,p79_model,p80_model];
const obsSeries=[p65_obs,p66_obs,p67_obs,p68_obs,p69_obs,p70_obs,p71_obs,p72_obs,p73_obs,p74_obs,p75_obs,p76_obs,p77_obs,p78_obs,p79_obs,p80_obs];
const yLimits=[[-0.353,0.35],[-0.375,0.962],[-0.367,0.877],[-0.381,0.876],[-0.435,0.897],[-0.432,0.858],[-0.345,0.735],[-0.663,0.60],[-0.364,0.75],[-0.57,0.687],[-0.575,0.65],[-0.735,0.706],[-2.57,1.07],[-1.315,0.89],[-1.66,0.82],[-1.16,0.815]];
const yTicks=[[-0.25,0,0.25],[0,0.5],[0,0.5],[0,0.5],[0,0.5],[0,0.5],[0,0.5],[-0.5,0,0.5],[0,0.5],[-0.5,0,0.5],[-0.5,0,0.5],[-0.5,0,0.5],[-2,0],[-1,0],[-1,0],[-1,0]];
const yTickDecimals=[2,1,1,1,1,1,1,1,1,1,1,1,0,0,0,0];
const xTickDays=[1,2,4,6,8,10,12,14];
const xTickLabels=["2017-08-31","2017-09-01","2017-09-03","2017-09-05","2017-09-07","2017-09-09","2017-09-11","2017-09-13"];
const xDomain=[-0.7,14.7];

const NS='http://www.w3.org/2000/svg';
const svg=document.getElementById('chart');
function mk(tag,attrs,parent){const e=document.createElementNS(NS,tag);for(const k in attrs)e.setAttribute(k,attrs[k]);(parent||svg).appendChild(e);return e;}
function fmt(v,dec){const s=Math.abs(v).toFixed(dec);return (v<0?'\u2212':'')+s;}
function smoothPath(pts){
  if(!pts.length)return '';
  let d='M'+pts[0][0].toFixed(2)+','+pts[0][1].toFixed(2);
  for(let i=0;i<pts.length-1;i++){
    const p0=pts[i-1]||pts[i],p1=pts[i],p2=pts[i+1],p3=pts[i+2]||pts[i+1];
    const c1x=p1[0]+(p2[0]-p0[0])/6,c1y=p1[1]+(p2[1]-p0[1])/6;
    const c2x=p2[0]-(p3[0]-p1[0])/6,c2y=p2[1]-(p3[1]-p1[1])/6;
    d+='C'+c1x.toFixed(2)+','+c1y.toFixed(2)+' '+c2x.toFixed(2)+','+c2y.toFixed(2)+' '+p2[0].toFixed(2)+','+p2[1].toFixed(2);
  }
  return d;
}
const defs=mk('defs',{});
const AW=845.45,AH=82.13;
for(let i=0;i<16;i++){
  const col=i%2,row=Math.floor(i/2);
  const L=col?1314.55:300,T=192+row*164.27;
  const xs=d=>L+(d-xDomain[0])/(xDomain[1]-xDomain[0])*AW;
  const [y0,y1]=yLimits[i];
  const ys=v=>T+AH*(y1-v)/(y1-y0);
  const g=mk('g',{});
  
  
  const cp=mk('clipPath',{id:'clip'+i},defs);
  mk('rect',{x:L,y:T,width:AW,height:AH},cp);
  const title=mk('text',{x:L+AW/2,y:T-8.3,'text-anchor':'middle','font-size':'16.7'},g);
  title.textContent=panelTitles[i];
  
  
  const lines=mk('g',{'clip-path':'url(#clip'+i+')'},g);
  const mPath=mk('path',{d:smoothPath(modelSeries[i].map(p=>[xs(p[0]),ys(p[1])])),fill:'none',stroke:'#000','stroke-width':'2.08','stroke-linejoin':'round'},lines);
  
  
  if(obsSeries[i].length){
    const oPath=mk('path',{d:smoothPath(obsSeries[i].map(p=>[xs(p[0]),ys(p[1])])),fill:'none',stroke:'#ff0000','stroke-width':'2.08','stroke-linejoin':'round'},lines);
    
    
  }
  const frame=mk('rect',{x:L,y:T,width:AW,height:AH,fill:'none',stroke:'#000','stroke-width':'1.1'},g);
  
  
  yTicks[i].forEach(v=>{
    const y=ys(v);
    mk('line',{x1:L,x2:L-4.9,y1:y,y2:y,stroke:'#000','stroke-width':'1.1'},g);
    const t=mk('text',{x:L-9.7,y:y+5,'text-anchor':'end','font-size':'13.9'},g);
    t.textContent=fmt(v,yTickDecimals[i]);
    
    
  });
  if(row===7){
    xTickDays.forEach((d,k)=>{
      const x=xs(d);
      mk('line',{x1:x,x2:x,y1:T+AH,y2:T+AH+4.9,stroke:'#000','stroke-width':'1.1'},g);
      const t=mk('text',{x:x,y:T+AH+23,'text-anchor':'middle','font-size':'13.9'},g);
      t.textContent=xTickLabels[k];
      
      
    });
  }
  if(i===0){
    const lg=mk('g',{},g);
    
    
    const bx=L+AW-7-120,by=T+7;
    mk('rect',{x:bx,y:by,width:120,height:47,rx:3,fill:'#fff','fill-opacity':'0.8',stroke:'#cccccc','stroke-width':'1.1'},lg);
    const e1=mk('line',{x1:bx+6,x2:bx+34,y1:by+14,y2:by+14,stroke:'#000','stroke-width':'2.08'},lg);
    
    const t1=mk('text',{x:bx+45,y:by+19,'font-size':'13.9'},lg);
    t1.textContent='icogs2d-v3';
    
    
    const e2=mk('line',{x1:bx+6,x2:bx+34,y1:by+34,y2:by+34,stroke:'#ff0000','stroke-width':'2.08'},lg);
    
    const t2=mk('text',{x:bx+45,y:by+39,'font-size':'13.9'},lg);
    t2.textContent='obs';
    
    
  }
}
</script>
</body></html>
